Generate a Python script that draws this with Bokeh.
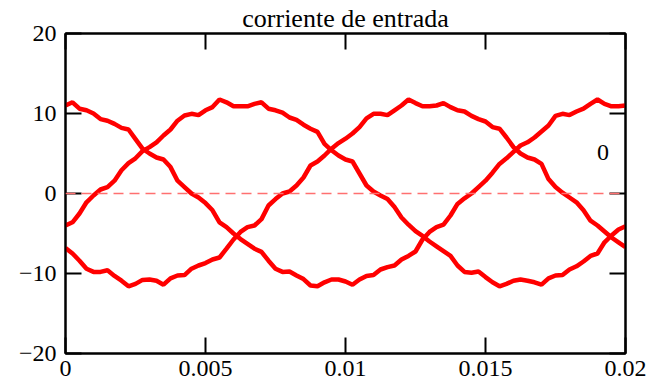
import numpy as np
from bokeh.plotting import figure
from bokeh.models import LinearAxis, FixedTicker, Span, Label, Range1d
from bokeh.embed import file_html
from bokeh.resources import INLINE

# sample times (s)
t = np.linspace(0.0, 0.02, 81)

phase_a = [11.0, 11.4, 10.6, 10.4, 10.0, 9.3, 9.1, 8.7, 8.2, 8.0, 6.8, 5.6, 5.0, 4.5, 4.25, 3.3, 1.6, 0.8, 0.0, -0.5, -1.2,
           -2.1, -3.6, -4.2, -5.0, -5.7, -6.3, -6.9, -7.3, -8.4, -9.4, -9.8, -9.75, -10.25, -10.7, -11.5, -11.6, -11.1, -10.75, -10.75, -11.0,
           -11.4, -10.75, -10.3, -10.2, -9.5, -9.2, -9.0, -8.25, -7.8, -7.25, -5.75, -4.8, -4.2, -3.9, -2.75, -1.3, -0.6, 0.0, 0.8, 1.6,
           2.6, 3.7, 4.4, 5.2, 6.0, 6.4, 7.0, 7.75, 8.5, 9.7, 9.96, 9.8, 10.25, 10.6, 11.2, 11.75, 11.2, 10.9, 10.9, 11.0]

phase_b = [-4.0, -3.6, -2.5, -1.1, -0.25, 0.5, 0.8, 1.6, 2.9, 3.8, 4.4, 5.3, 5.8, 6.4, 7.25, 8.0, 9.1, 9.75, 9.96, 9.8, 10.4,
           10.8, 11.75, 11.4, 10.9, 10.9, 10.9, 11.2, 11.4, 10.6, 10.4, 10.1, 9.5, 9.2, 8.6, 8.1, 7.7, 6.2, 5.4, 4.75, 4.25,
           4.0, 2.5, 1.0, 0.25, -0.25, -0.7, -1.7, -3.0, -3.9, -4.7, -5.3, -6.0, -6.6, -7.2, -7.8, -9.0, -9.8, -9.9, -9.75, -10.45,
           -11.1, -11.6, -11.3, -10.9, -10.75, -10.9, -11.1, -11.4, -10.6, -10.25, -10.2, -9.5, -9.1, -8.5, -7.8, -7.5, -6.1, -5.25, -4.5, -4.1]

phase_c = [-6.8, -7.5, -8.4, -9.4, -9.8, -9.8, -9.6, -10.3, -10.9, -11.6, -11.3, -10.8, -10.75, -10.9, -11.4, -10.6, -10.25, -10.2, -9.4, -9.0, -8.7,
           -8.25, -8.0, -6.9, -5.75, -4.8, -4.2, -4.0, -3.2, -1.5, -0.7, 0.0, 0.25, 1.0, 2.0, 3.5, 4.0, 4.75, 5.6, 6.3, 6.85,
           7.5, 8.3, 9.4, 9.96, 9.96, 9.8, 10.4, 11.0, 11.75, 11.3, 10.9, 10.9, 11.0, 11.3, 10.8, 10.4, 10.25, 9.7, 9.3, 9.0,
           8.3, 8.1, 7.0, 5.8, 5.0, 4.5, 4.25, 3.7, 1.8, 0.8, 0.1, -0.5, -1.1, -2.1, -3.4, -4.0, -4.75, -5.5, -6.1, -6.7]

x_ticks = [0, 0.005, 0.01, 0.015, 0.02]
x_tick_labels = ["0", "0.005", "0.01", "0.015", "0.02"]
y_ticks = [-20, -10, 0, 10, 20]
y_tick_labels = ["\u221220", "\u221210", "0", "10", "20"]
title_text = "corriente de entrada"
trace_label = "0"

FONT = "Liberation Serif"
FS = "24px"

p = figure(width=652, height=386, output_backend="svg", toolbar_location=None,
           x_range=Range1d(0, 0.02), y_range=Range1d(-20, 20),
           x_axis_location=None, y_axis_location=None,
           min_border_left=65, min_border_right=27, min_border_top=33, min_border_bottom=33)
p.grid.visible = False
p.outline_line_color = "black"
p.outline_line_width = 2
p.background_fill_color = "white"
p.border_fill_color = "white"

p.title.text = title_text
p.title.align = "center"
p.title.text_font = FONT
p.title.text_font_style = "normal"
p.title.text_font_size = "26px"
p.title.text_color = "black"
p.title.standoff = 2


def style_axis(ax, ticks, labels, show_labels):
    ax.ticker = FixedTicker(ticks=ticks)
    ax.axis_line_color = "black"
    ax.axis_line_width = 2
    ax.major_tick_line_color = "black"
    ax.major_tick_line_width = 2
    ax.major_tick_in = 16
    ax.major_tick_out = 0
    ax.minor_tick_line_color = None
    if show_labels:
        ax.major_label_overrides = {k: v for k, v in zip(ticks, labels)}
        ax.major_label_text_font = FONT
        ax.major_label_text_font_size = FS
        ax.major_label_text_color = "black"
    else:
        ax.major_label_overrides = {k: "" for k in ticks}
        ax.major_label_text_font_size = "1px"
        ax.major_label_standoff = 0


bottom = LinearAxis()
style_axis(bottom, x_ticks, x_tick_labels, True)
bottom.major_label_standoff = 7
p.add_layout(bottom, "below")
left = LinearAxis()
style_axis(left, y_ticks, y_tick_labels, True)
left.major_label_standoff = 9
p.add_layout(left, "left")
top = LinearAxis()
style_axis(top, x_ticks, x_tick_labels, False)
p.add_layout(top, "above")
right = LinearAxis()
style_axis(right, y_ticks, y_tick_labels, False)
p.add_layout(right, "right")

p.add_layout(Span(location=0, dimension="width", line_color="#ff7070",
                  line_width=1.5, line_dash="10 6"))

for series in (phase_a, phase_b, phase_c):
    p.line(t, series, line_color="#ff0000", line_width=4.5)

p.add_layout(Label(x=0.0192, y=5.1, text=trace_label, text_font=FONT, text_font_size=FS,
                   text_align="center", text_baseline="middle", text_color="black"))

open("out.html", "w").write(file_html(p, INLINE))
